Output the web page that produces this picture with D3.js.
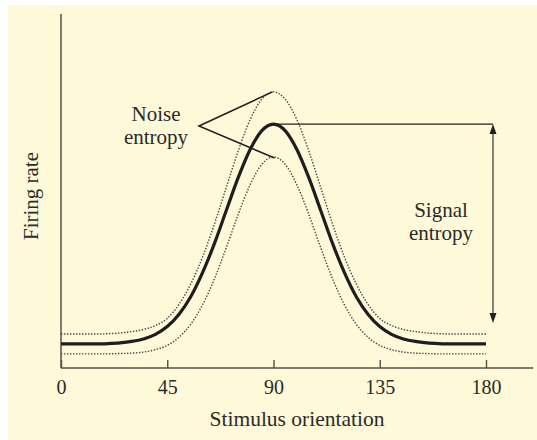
<!DOCTYPE html>
<html>
<head>
<meta charset="utf-8">
<script src="https://cdn.jsdelivr.net/npm/d3@7"></script>
<style>
  html, body { margin: 0; padding: 0; background: #ffffff; }
  svg { display: block; }
  text { font-family: "Liberation Serif", "Times New Roman", serif; fill: #2b2b2b; }
</style>
</head>
<body>
<svg id="chart" width="537" height="440"></svg>
<script>
// Stimulus orientations (degrees)
const orientations = [0,5,10,15,20,25,30,35,40,45,50,55,60,65,70,75,80,85,90,95,100,105,110,115,120,125,130,135,140,145,150,155,160,165,170,175,180];
// Mean firing rate (arbitrary units)
const meanRate = [6.8,6.8,6.8,6.8,6.9,7.1,7.5,8.2,9.5,11.7,15.2,20.2,27.0,35.2,44.5,53.7,61.6,67.0,68.9,67.0,61.6,53.7,44.5,35.2,27.0,20.2,15.2,11.7,9.5,8.2,7.5,7.1,6.9,6.8,6.8,6.8,6.8];
// Upper noise envelope
const upperRate = [9.6,9.6,9.6,9.6,9.7,9.9,10.3,10.9,12.0,14.0,18.0,23.8,31.4,40.7,51.0,61.2,70.0,75.9,78.0,75.9,70.0,61.2,51.0,40.7,31.4,23.8,18.0,14.0,12.0,10.9,10.3,9.9,9.7,9.6,9.6,9.6,9.6];
// Lower noise envelope
const lowerRate = [4.0,4.0,4.0,4.0,4.0,4.1,4.2,4.5,5.2,6.4,8.7,12.4,17.9,25.2,34.0,43.3,51.6,57.5,59.6,57.5,51.6,43.3,34.0,25.2,17.9,12.4,8.7,6.4,5.2,4.5,4.2,4.1,4.0,4.0,4.0,4.0,4.0];
// Axis ticks
const xTicks = [0,45,90,135,180];
const xTitle = "Stimulus orientation";
const yTitle = "Firing rate";
const noiseLabel = ["Noise","entropy"];
const signalLabel = ["Signal","entropy"];

const svg = d3.select("#chart");
// background panel
svg.append("rect").attr("x", 8).attr("y", 5).attr("width", 529).attr("height", 435).attr("fill", "#fef9d8");

const x = d3.scaleLinear().domain([0, 180]).range([61, 486]);
const y = d3.scaleLinear().domain([0, 100]).range([368, 14]);

const axisColor = "#55514b";

// x axis
const xAxis = d3.axisBottom(x).tickValues(xTicks).tickSize(-8).tickPadding(16).tickFormat(d3.format("d"));
const gx = svg.append("g").attr("transform", `translate(0,${y(0)})`).call(xAxis);
gx.select(".domain").remove();
gx.selectAll(".tick line").attr("stroke", axisColor).attr("stroke-width", 1.4);
gx.selectAll(".tick text").attr("font-size", 20).attr("font-family", "Liberation Serif").attr("fill", "#2b2b2b").attr("dy", "0.71em").attr("y", 12);
svg.append("line").attr("x1", x(0)).attr("x2", x(200)).attr("y1", y(0)).attr("y2", y(0))
  .attr("stroke", axisColor).attr("stroke-width", 1.5);

// y axis
svg.append("line").attr("x1", x(0)).attr("x2", x(0)).attr("y1", y(0)).attr("y2", y(100))
  .attr("stroke", axisColor).attr("stroke-width", 1.5);

// titles
svg.append("text").attr("x", 297).attr("y", 426).attr("text-anchor", "middle").attr("font-size", 21.5).text(xTitle);
svg.append("text").attr("transform", "translate(38,196) rotate(-90)").attr("text-anchor", "middle").attr("font-size", 21).text(yTitle);

// curves
const line = d3.line().x((d, i) => x(orientations[i])).y(d => y(d)).curve(d3.curveMonotoneX);
svg.append("path").datum(upperRate).attr("d", line).attr("fill", "none")
  .attr("stroke", "#444").attr("stroke-width", 1.4).attr("stroke-dasharray", "1.4,1.6");
svg.append("path").datum(lowerRate).attr("d", line).attr("fill", "none")
  .attr("stroke", "#444").attr("stroke-width", 1.4).attr("stroke-dasharray", "1.4,1.6");
svg.append("path").datum(meanRate).attr("d", line).attr("fill", "none")
  .attr("stroke", "#1e1e1e").attr("stroke-width", 3.2).attr("stroke-linejoin", "round");

// Noise entropy leaders
const iPeak = orientations.indexOf(90);
const apex = [199, 126];
svg.append("path").attr("d", `M${x(90)-1},${y(upperRate[iPeak])}L${apex[0]},${apex[1]}L${x(90)+1},${y(lowerRate[iPeak])+1}`)
  .attr("fill", "none").attr("stroke", "#222").attr("stroke-width", 1.6);
svg.append("text").attr("x", 156).attr("y", 121).attr("text-anchor", "middle").attr("font-size", 21).text(noiseLabel[0]);
svg.append("text").attr("x", 156).attr("y", 144).attr("text-anchor", "middle").attr("font-size", 21).text(noiseLabel[1]);

// Signal entropy bracket
const arrowX = 493;
const topY = y(meanRate[iPeak]);
const botY = 323;
svg.append("line").attr("x1", x(90)).attr("x2", arrowX).attr("y1", topY).attr("y2", topY)
  .attr("stroke", "#222").attr("stroke-width", 1.2);
svg.append("line").attr("x1", arrowX).attr("x2", arrowX).attr("y1", topY + 6).attr("y2", botY - 6)
  .attr("stroke", "#333").attr("stroke-width", 1.2);
svg.append("path").attr("d", `M${arrowX},${topY}L${arrowX-3.5},${topY+10}L${arrowX+3.5},${topY+10}Z`).attr("fill", "#222");
svg.append("path").attr("d", `M${arrowX},${botY}L${arrowX-3.5},${botY-10}L${arrowX+3.5},${botY-10}Z`).attr("fill", "#222");
svg.append("text").attr("x", 441).attr("y", 217).attr("text-anchor", "middle").attr("font-size", 21).text(signalLabel[0]);
svg.append("text").attr("x", 441).attr("y", 240).attr("text-anchor", "middle").attr("font-size", 21).text(signalLabel[1]);
</script>
</body>
</html>
